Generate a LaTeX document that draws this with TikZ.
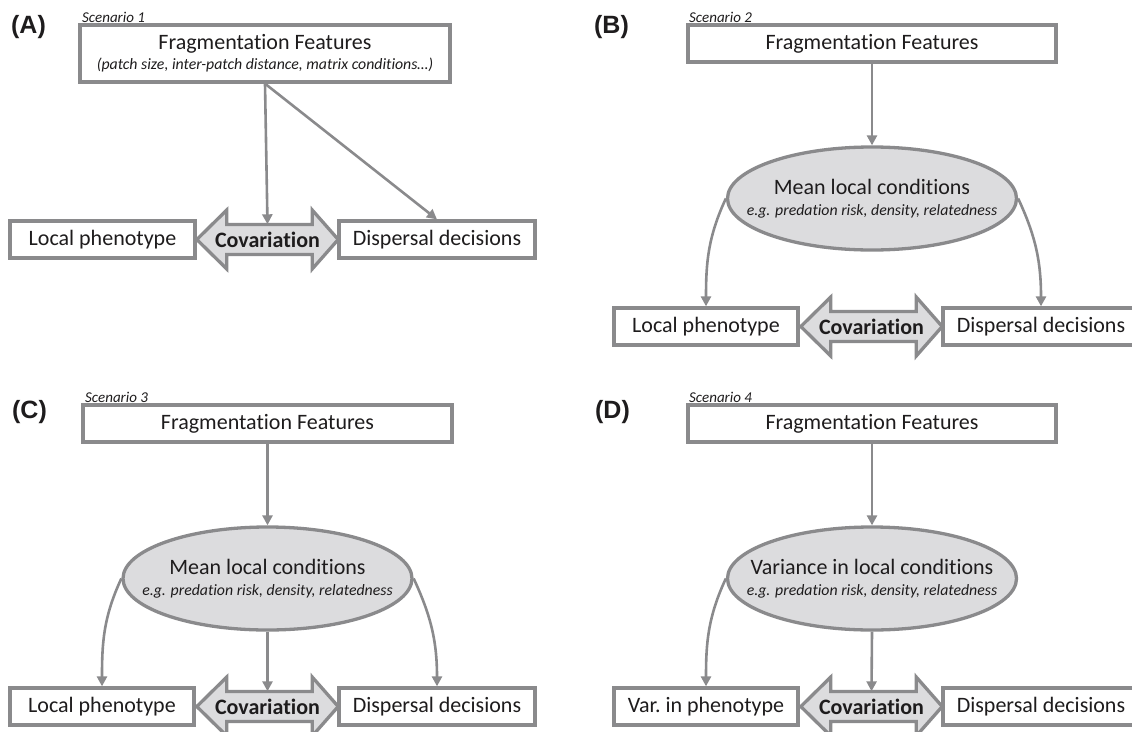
\documentclass[tikz,border=0pt]{standalone}
\usepackage{fontspec}
\setmainfont{Carlito}[Ligatures=CommonOff]
\newfontfamily\labfont{Liberation Sans}
\usetikzlibrary{shapes.geometric,arrows.meta,calc,backgrounds}
\definecolor{edgegray}{HTML}{8A8A8C}
\definecolor{fillgray}{HTML}{DCDCDE}
\definecolor{txt}{HTML}{1E1C1D}
\newcommand{\bigtxt}{\fontsize{22}{24}\selectfont}
\newcommand{\smalltxt}{\fontsize{15}{17}\selectfont\itshape}
\newcommand{\subtxt}{\fontsize{15.8}{17}\selectfont\itshape}
\begin{document}
\begin{tikzpicture}[x=1pt,y=1pt,
  every node/.style={text=txt},
  box/.style={draw=edgegray, line width=3.3pt, fill=white, inner sep=0pt, minimum height=37pt, font=\bigtxt},
  ell/.style={ellipse, draw=edgegray, line width=3.3pt, fill=fillgray, inner xsep=-40pt, inner ysep=0pt,
              minimum width=289pt, minimum height=103pt, align=center, font=\bigtxt},
  conn/.style={draw=edgegray, line width=2.6pt, -{Triangle[length=10pt,width=10pt]}},
  covtext/.style={inner sep=0pt, minimum width=141pt, minimum height=30pt, font=\bigtxt\bfseries},
  covshape/.style={draw=edgegray, line width=3.3pt, fill=fillgray, line join=miter},
  scen/.style={anchor=base west, font=\smalltxt, inner sep=0pt},
  panel/.style={font=\labfont\fontsize{25}{28}\selectfont\bfseries, inner sep=0pt}
]
\useasboundingbox (0,0) rectangle (1132,-731);
\clip (0,0) rectangle (1132,-731);

% ---------------- Panel A ----------------
\node[panel] (labA) at (28.5,-27.5) {(A)};
\node[scen] (scenA) at (82,-22) {Scenario 1};
\node[box, minimum width=370pt, minimum height=57pt, align=center] (ffA) at (265,-53.5)
  {Fragmentation Features\\[-4pt]{\subtxt (patch size, inter-patch distance, matrix conditions…)}};
\node[box, minimum width=185pt] (lpA) at (102.5,-239.5) {Local phenotype};
\node[covtext] (covA) at (267.5,-239.5) {Covariation};
\node[box, minimum width=196pt] (ddA) at (437,-239.5) {Dispersal decisions};
\draw[conn] (ffA.south) -- (covA.north);
\draw[conn] (ffA.south) -- (ddA.north);

% ---------------- Panel B ----------------
\node[panel] (labB) at (611.5,-27.5) {(B)};
\node[scen] (scenB) at (689,-22) {Scenario 2};
\node[box, minimum width=368pt] (ffB) at (872,-43.5) {Fragmentation Features};
\node[ell] (ellB) at (872,-198.5) {Mean local conditions\\[-3pt]{\subtxt e.g. predation risk, density, relatedness}};
\node[box, minimum width=184pt] (lpB) at (706,-326.5) {Local phenotype};
\node[covtext] (covB) at (871.5,-326.5) {Covariation};
\node[box, minimum width=196pt] (ddB) at (1041,-326.5) {Dispersal decisions};
\draw[conn] (ffB.south) -- (ellB.north);
\draw[conn] (ellB.west) to[out=245,in=90] (lpB.north);
\draw[conn] (ellB.east) to[out=-65,in=90] (ddB.north);

% ---------------- Panel C ----------------
\node[panel] (labC) at (29.5,-412.5) {(C)};
\node[scen] (scenC) at (85,-402) {Scenario 3};
\node[box, minimum width=369pt] (ffC) at (267.5,-423.5) {Fragmentation Features};
\node[ell] (ellC) at (267.5,-578.5) {Mean local conditions\\[-3pt]{\subtxt e.g. predation risk, density, relatedness}};
\node[box, minimum width=184pt] (lpC) at (102,-706.5) {Local phenotype};
\node[covtext] (covC) at (267.5,-706.5) {Covariation};
\node[box, minimum width=196pt] (ddC) at (437,-706.5) {Dispersal decisions};
\draw[conn] (ffC.south) -- (ellC.north);
\draw[conn] (ellC.west) to[out=245,in=90] (lpC.north);
\draw[conn] (ellC.south) -- (covC.north);
\draw[conn] (ellC.east) to[out=-65,in=90] (ddC.north);

% ---------------- Panel D ----------------
\node[panel] (labD) at (612.5,-412.5) {(D)};
\node[scen] (scenD) at (689,-402) {Scenario 4};
\node[box, minimum width=368pt] (ffD) at (872,-423.5) {Fragmentation Features};
\node[ell] (ellD) at (872,-578.5) {Variance in local conditions\\[-3pt]{\subtxt e.g. predation risk, density, relatedness}};
\node[box, minimum width=184pt] (lpD) at (706,-706.5) {Var.\ in phenotype};
\node[covtext] (covD) at (871.5,-706.5) {Covariation};
\node[box, minimum width=196pt] (ddD) at (1041,-706.5) {Dispersal decisions};
\draw[conn] (ffD.south) -- (ellD.north);
\draw[conn] (ellD.west) to[out=245,in=90] (lpD.north);
\draw[conn] (ellD.south) -- (covD.north);

% ---------------- Covariation double arrows (behind their labels) ----------------
\begin{pgfonlayer}{background}
\foreach \c in {covA,covB,covC,covD}{
  \draw[covshape] (\c.west) -- ++(30,29.5) -- ++(0,-14.5)
    -- ($(\c.east)+(-26,15)$) -- ++(0,14.5) -- (\c.east) -- ++(-26,-29.5) -- ++(0,14.5)
    -- ($(\c.west)+(30,-15)$) -- ++(0,-14.5) -- cycle;
}
\end{pgfonlayer}
\end{tikzpicture}
\end{document}
